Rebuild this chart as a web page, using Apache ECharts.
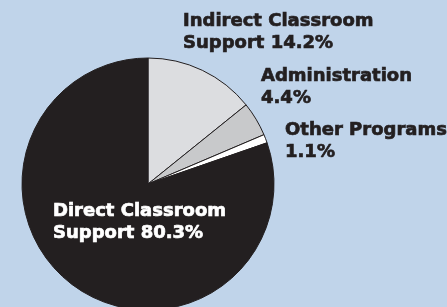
<!DOCTYPE html>
<html>
<head>
<meta charset="utf-8">
<script src="https://cdn.jsdelivr.net/npm/echarts@6/dist/echarts.min.js"></script>
<style>
  html, body { margin: 0; padding: 0; background: #c0d4ea; }
  #chart { width: 447px; height: 307px; }
</style>
</head>
<body>
<div id="chart"></div>
<script>
// slices, clockwise from 12 o'clock
const names = ['Indirect Classroom\nSupport ', 'Administration\n', 'Other Programs\n', 'Direct Classroom\nSupport ']
const values = [14.2, 4.4, 1.1, 80.3]
const colors = ['#dcdde0', '#c8c9cb', '#ffffff', '#231f20']
// where each label sits (left, top of text box)
const labelPos = [[183, 10], [261, 65], [285, 119], [53, 200]]

const chart = echarts.init(document.getElementById('chart'))
const data = []
for (let i = 0; i < names.length; i++) {
  const txt = i === 3 ? '#ffffff' : '#231f20'
  data.push({
    name: names[i],
    value: values[i],
    itemStyle: { color: colors[i] },
    label: {
      position: i === 3 ? 'inside' : 'outside',
      color: txt,
      textBorderColor: txt,
      textBorderWidth: 0.7
    }
  })
}

chart.setOption({
  backgroundColor: '#c0d4ea',
  animation: false,
  series: [{
    type: 'pie',
    center: [148, 184],
    radius: 126,
    startAngle: 90,
    clockwise: true,
    itemStyle: {
      borderColor: '#231f20',
      borderWidth: 1
    },
    label: {
      show: true,
      formatter: function (p) {
        return p.name + p.value.toFixed(1) + '%'
      },
      fontFamily: 'DejaVu Sans',
      fontWeight: 'bold',
      fontSize: 18,
      lineHeight: 22,
      align: 'left',
      overflow: 'none'
    },
    labelLine: { show: false },
    labelLayout: function (params) {
      const pos = labelPos[params.dataIndex]
      return {
        x: pos[0],
        y: pos[1],
        align: 'left',
        verticalAlign: 'top'
      }
    },
    data: data
  }]
})
</script>
</body>
</html>
